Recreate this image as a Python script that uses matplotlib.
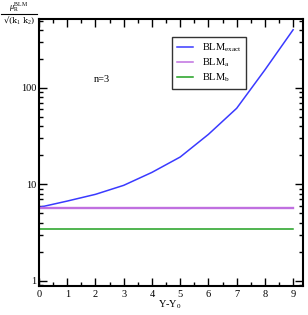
import matplotlib
matplotlib.use("Agg")
import matplotlib.pyplot as plt
from matplotlib.lines import Line2D
from matplotlib.ticker import LogLocator, MultipleLocator, FixedLocator, NullFormatter

plt.rcParams['font.family'] = ['Liberation Serif', 'DejaVu Serif']
plt.rcParams['mathtext.fontset'] = 'custom'
plt.rcParams['mathtext.rm'] = 'Liberation Serif'
plt.rcParams['mathtext.it'] = 'Liberation Serif:italic'

# Data
x_vals = [0, 1, 2, 3, 4, 5, 6, 7, 8, 9]
blm_exact = [5.76, 6.70, 7.87, 9.76, 13.3, 19.2, 33.0, 61.5, 154, 402]
blm_a = [5.66] * len(x_vals)
blm_b = [3.42] * len(x_vals)
x_ticks = [0, 1, 2, 3, 4, 5, 6, 7, 8, 9]
y_ticks = [1, 10, 100]
y_tick_labels = ['1', '10', '100']

W, H = 308, 315
fig = plt.figure(figsize=(W / 100, H / 100), dpi=100)
ax = fig.add_axes([39 / W, 1 - 286 / H, (303 - 39) / W, (286 - 19) / H])

ax.plot(x_vals, blm_exact, color='#3a3aff', lw=1.1, label=r'BLM$_{\mathrm{exact}}$')
ax.plot(x_vals, blm_a, color='#c070e0', lw=1.7, label=r'BLM$_{\mathrm{a}}$')
ax.plot(x_vals, blm_b, color='#20a020', lw=1.1, label=r'BLM$_{\mathrm{b}}$')

ax.set_yscale('log')
ax.set_xlim(0, 9.35)
ax.set_ylim(0.88, 520)

ax.xaxis.set_major_locator(FixedLocator(x_ticks))
ax.xaxis.set_minor_locator(MultipleLocator(0.5))
ax.yaxis.set_major_locator(FixedLocator(y_ticks))
ax.set_yticklabels(y_tick_labels)
ax.yaxis.set_minor_locator(LogLocator(base=10, subs=[2, 3, 4, 5, 6, 7, 8, 9]))
ax.yaxis.set_minor_formatter(NullFormatter())

ax.tick_params(which='both', direction='in', top=True, right=True, labelsize=7.5, colors='black')
ax.tick_params(which='major', length=6, width=1)
ax.tick_params(which='minor', length=3, width=1)
ax.tick_params(axis='x', pad=3)
ax.tick_params(axis='y', pad=2)
for s in ax.spines.values():
    s.set_linewidth(1.5)

leg = ax.legend(loc='upper left', bbox_to_anchor=(0.504, 0.933), borderaxespad=0,
                fontsize=7.5, frameon=True, fancybox=False, handlelength=1.6,
                labelspacing=0.25, borderpad=0.45, handletextpad=0.8)
leg.get_frame().set_edgecolor('black')
leg.get_frame().set_linewidth(1.0)
for h in leg.get_lines():
    h.set_linewidth(1.1)

ax.text(102 / W, 1 - 80 / H, 'n=3', transform=fig.transFigure, fontsize=7.5,
        ha='center', va='center')

fig.text(170 / W, 1 - 305 / H, r'Y-Y$_0$', fontsize=7.5, ha='center', va='center')

# y label as a fraction at top left
fig.text(19 / W, 1 - 13.5 / H, r'$\mu_{\mathrm{R}}^{\mathrm{BLM}}$', fontsize=6, ha='center', va='bottom')
fig.add_artist(Line2D([1 / W, 37 / W], [1 - 14 / H, 1 - 14 / H], color='black', lw=0.8,
                      transform=fig.transFigure))
fig.text(19 / W, 1 - 15 / H, '\u221a(k$_1$ k$_2$)', fontsize=6, ha='center', va='top',
         family=['DejaVu Serif'])

fig.savefig('out.png', dpi=100)
